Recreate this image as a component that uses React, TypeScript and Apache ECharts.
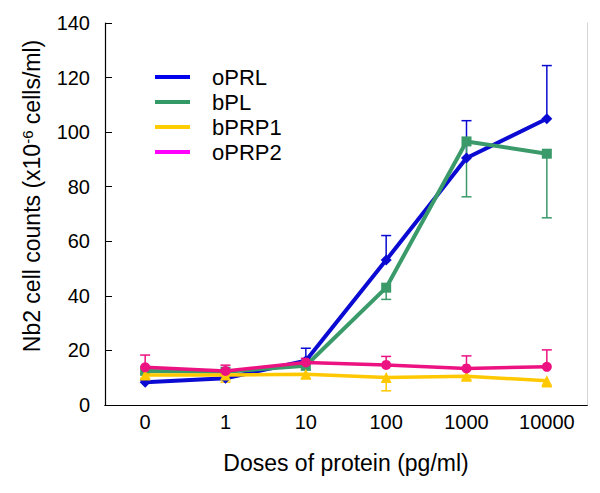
import React, { useEffect, useRef } from "react";
import * as echarts from "echarts";

const categories = ["0", "1", "10", "100", "1000", "10000"];
const seriesNames = ["oPRL", "bPL", "bPRP1", "oPRP2"];

const oPRL = [8.3, 9.8, 16.2, 53.1, 90.5, 104.9];
const bPL = [12.5, 12.2, 14.4, 43.0, 96.6, 92.1];
const bPRP1 = [11.0, 11.0, 11.3, 10.1, 10.5, 8.9];
const oPRP2 = [13.8, 12.5, 15.6, 14.7, 13.4, 14.0];

// error magnitudes (drawn one-sided as in the original)
const oPRLErr = [0.8, 0.8, 4.6, 9.0, 13.7, 19.5]; // upward
const bPLErr = [1.0, 1.0, 1.5, 4.3, 20.3, 23.5]; // downward
const bPRP1Err = [1.2, 2.6, 1.5, 4.9, 1.2, 2.2]; // downward
const oPRP2Err = [4.5, 2.1, 1.5, 3.1, 4.6, 6.2]; // upward

const yTicks = { min: 0, max: 140, interval: 20 };

const lineColors = ["#0a0ad2", "#3a9a6a", "#ffc800", "#ec1282"];
const legendColors = ["#0000ee", "#339966", "#ffcc00", "#ff00ff"];
const symbols = ["diamond", "rect", "triangle", "circle"];
const symbolSizes = [11, 10, 11, 10];
const lineWidths = [4, 4, 3.5, 3.5];

const FONT = "Liberation Sans, Arial, sans-serif";

export default function App() {
  const ref = useRef<HTMLDivElement>(null);
  useEffect(() => {
    if (!ref.current) return;
    const chart = echarts.init(ref.current, null, { renderer: "svg" });
    const means = [oPRL, bPL, bPRP1, oPRP2];
    const errs = [oPRLErr, bPLErr, bPRP1Err, oPRP2Err];
    const dirs = [1, -1, -1, 1];

    const errSeries = means.map((m, si) => ({
      type: "custom",
      name: seriesNames[si] + " err",
      xAxisIndex: 0,
      yAxisIndex: 0,
      z: 1,
      encode: { x: 0, y: 1 },
      data: m.map((v, i) => [i, v, errs[si][i], dirs[si]]),
      renderItem: (params: any, api: any) => {
        const x = api.value(0);
        const mv = api.value(1);
        const e = api.value(2);
        const d = api.value(3);
        const p0 = api.coord([x, mv]);
        const p1 = api.coord([x, mv + d * e]);
        const st = { stroke: lineColors[si], lineWidth: 1.5 };
        return {
          type: "group",
          children: [
            { type: "line", shape: { x1: p0[0], y1: p0[1], x2: p1[0], y2: p1[1] }, style: st },
            { type: "line", shape: { x1: p1[0] - 5, y1: p1[1], x2: p1[0] + 5, y2: p1[1] }, style: st },
          ],
        };
      },
    }));

    const lineSeries = means.map((m, si) => ({
      type: "line",
      name: seriesNames[si],
      data: m,
      z: 2 + si,
      symbol: symbols[si],
      symbolSize: symbolSizes[si],
      showAllSymbol: true,
      lineStyle: { color: lineColors[si], width: lineWidths[si] },
      itemStyle: { color: lineColors[si] },
    }));

    chart.setOption({
      animation: false,
      textStyle: { fontFamily: FONT },
      grid: { left: 105, right: 13, top: 23, bottom: 88, containLabel: false },
      legend: {
        orient: "vertical",
        left: 155,
        top: 66,
        padding: 0,
        icon: "rect",
        itemWidth: 35,
        itemHeight: 4,
        itemGap: 3,
        textStyle: { fontSize: 22, color: "#000", fontFamily: FONT, lineHeight: 22, padding: [0, 0, 0, 17] },
        data: seriesNames.map((n, i) => ({ name: n, itemStyle: { color: legendColors[i] } })),
      },
      graphic: [
        {
          type: "text",
          x: 32,
          y: 196,
          rotation: Math.PI / 2,
          style: {
            text: "Nb2 cell counts (x10{sup|-6} cells/ml)",
            fontSize: 23,
            fontFamily: FONT,
            fill: "#000",
            align: "center",
            verticalAlign: "middle",
            rich: { sup: { fontSize: 15, fill: "#000", fontFamily: FONT, padding: [0, 0, 10, 0] } },
          },
        },
      ],
      xAxis: [
        {
          type: "category",
          data: categories,
          boundaryGap: true,
          axisLine: { lineStyle: { color: "#000", width: 1.2 } },
          axisTick: { show: false },
          axisLabel: { fontSize: 20, color: "#000", margin: 7, fontFamily: FONT },
          name: "Doses of protein (pg/ml)",
          nameLocation: "middle",
          nameGap: 46,
          nameTextStyle: { fontSize: 23, color: "#000", fontFamily: FONT },
        },
        {
          type: "category",
          data: categories,
          position: "top",
          axisLine: { lineStyle: { color: "#000", width: 1.2 } },
          axisTick: { show: false },
          axisLabel: { show: false },
        },
      ],
      yAxis: [
        {
          type: "value",
          min: yTicks.min,
          max: yTicks.max,
          interval: yTicks.interval,
          axisLine: { show: true, lineStyle: { color: "#000", width: 1.2 } },
          axisTick: { show: true, inside: true, length: 7, lineStyle: { color: "#000" } },
          splitLine: { show: false },
          axisLabel: { fontSize: 20, color: "#000", margin: 15, fontFamily: FONT },
        },
        {
          type: "value",
          min: yTicks.min,
          max: yTicks.max,
          interval: yTicks.interval,
          position: "right",
          axisLine: { show: true, lineStyle: { color: "#d4d4d4", width: 1 } },
          axisTick: { show: false },
          axisLabel: { show: false },
          splitLine: { show: false },
        },
      ],
      series: [...errSeries, ...lineSeries],
    });
    return () => chart.dispose();
  }, []);
  return (
    <div
      ref={ref}
      style={{ position: "fixed", left: 0, top: 0, width: 600, height: 493, background: "#fff" }}
    />
  );
}
